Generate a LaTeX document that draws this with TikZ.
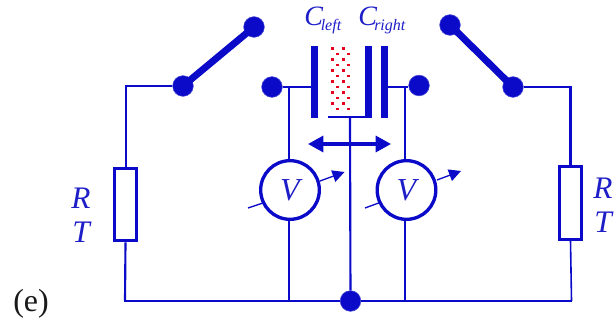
\documentclass[tikz,border=0pt]{standalone}
\usepackage{fontspec}
\setmainfont{Liberation Serif}
\usetikzlibrary{arrows.meta}
\definecolor{cblue}{RGB}{10,10,200}
\definecolor{tblue}{RGB}{30,30,200}
\definecolor{dred}{RGB}{230,0,30}
\tikzset{
  wire/.style={draw=cblue,line width=1.6pt},
  thinwire/.style={draw=cblue,line width=1.2pt},
  contact/.style={circle,fill=cblue,draw=cblue!75!white,line width=0.4pt,minimum size=15.5pt,inner sep=0pt},
  swarm/.style={draw=cblue,line width=5.2pt},
  plate/.style={fill=cblue,draw=none},
  res/.style={draw=cblue,line width=2.3pt,fill=white,minimum width=17pt,minimum height=54.5pt,inner sep=0pt},
  meter/.style={circle,draw=cblue,line width=2.5pt,fill=white,minimum size=44pt,inner sep=0pt,text=tblue,font=\fontsize{24}{26}\selectfont\itshape},
  lab/.style={text=tblue,inner sep=0pt,font=\fontsize{23.5}{27}\selectfont\itshape},
  clab/.style={text=tblue,inner sep=0pt,anchor=base west,font=\fontsize{21}{22}\selectfont\itshape},
  sub/.style={text=tblue,inner sep=0pt,anchor=base west,font=\fontsize{12}{13}\selectfont\itshape},
  dotA/.style={fill=dred,draw=none},
  pointer/.style={draw=cblue,line width=1pt},
  ptip/.style={draw=cblue,line width=1pt,-{Triangle[length=9pt,width=9pt]}},
  move/.style={draw=cblue,line width=2.4pt,{Triangle[length=11.5pt,width=12pt]}-{Triangle[length=11.5pt,width=12pt]}}
}
\begin{document}
\begin{tikzpicture}[x=0.75pt,y=-0.75pt]
\useasboundingbox (0,0) rectangle (616,324);
% coordinates
\coordinate (lc) at (126,86);
\coordinate (rc) at (570.5,87);
\coordinate (bl) at (124,301);
\coordinate (blx) at (125,301);
\coordinate (br) at (571.5,301);
\coordinate (cl) at (289,87);
\coordinate (cr) at (405,87);
\coordinate (pl) at (311,87);
\coordinate (pr) at (388,87);
\coordinate (ct) at (350,118);
\coordinate (al) at (308,144);
\coordinate (ar) at (391,144);
% capacitor plates
\fill[plate] (311,46) rectangle (318,118.5);
\fill[plate] (365,46) rectangle (372,118.5);
\fill[plate] (328,116) rectangle (372,118.5);
\fill[plate] (381,46) rectangle (388,118.5);
% red dots
\foreach \y in {48.3,59.3,70.3,81.3,92.3,103.3}{
  \fill[dotA] (330.7,\y-1.5) rectangle +(3.2,3);
  \fill[dotA] (342.1,\y-1.5) rectangle +(3.2,3);
}
\foreach \y in {53.7,64.7,75.7,86.7,97.7,108.7}{
  \fill[dotA] (336,\y-1) rectangle +(3.2,2);
  \fill[dotA] (347,\y-1) rectangle +(3.2,2);
}
% nodes
\node[contact] (s1) at (183,86) {};
\node[contact] (s1t) at (254,27) {};
\node[contact] (s2) at (513,87) {};
\node[contact] (s2t) at (450,25) {};
\node[contact] (cla) at (272,87) {};
\node[contact] (cra) at (419,85.5) {};
\node[contact] (g) at (350.5,301) {};
\node[res] (r1) at (125.5,204.5) {};
\node[res] (r2) at (570.5,203) {};
\node[meter] (v1) at (290,190) {V};
\node[meter] (v2) at (406.5,190) {V};
% switch arms
\draw[swarm] (s1.center) -- (s1t.center);
\draw[swarm] (s2.center) -- (s2t.center);
% wires
\draw[wire] (s1) -- (lc) -- (r1.north -| lc);
\draw[wire] (r1.south) -- (blx);
\draw[wire] (bl) -- (g) -- (br);
\draw[wire] (s2) -- (rc) -- (r2.north);
\draw[thinwire] (r2.south) -- (br);
\draw[wire] (cla) -- (pl);
\draw[wire] (pr) -- (cra.west |- pr);
\draw[wire] (cl) -- (v1.north -| cl);
\draw[wire] (cr) -- (v2.north -| cr);
\draw[wire] (v1.south -| cl) -- (cl |- bl);
\draw[wire] (v2.south -| cr) -- (cr |- bl);
\draw[wire] (ct) -- (g);
\draw[move] (al) -- (ar);
% meter pointers
\coordinate (p1a) at (248,208);
\coordinate (p1b) at (263,203);
\coordinate (p1c) at (320,181);
\coordinate (p1d) at (344.5,172);
\coordinate (p2a) at (365,208);
\coordinate (p2b) at (380,202.5);
\coordinate (p2c) at (437,180);
\coordinate (p2d) at (461,171);
\draw[pointer] (p1a) -- (p1b);
\draw[ptip] (p1c) -- (p1d);
\draw[pointer] (p2a) -- (p2b);
\draw[ptip] (p2c) -- (p2d);
% labels
\node[clab] (cleft) at (304,26) {C};
\node[sub] (cleftsub) at (320.5,31) {left};
\node[clab] (cright) at (358,26) {C};
\node[sub] (crightsub) at (374,31) {right};
\node[lab,anchor=base] (rl) at (81,208.5) {R};
\node[lab,anchor=base] (tl) at (81,242) {T};
\node[lab,anchor=base] (rr) at (603,198.5) {R};
\node[lab,anchor=base] (tr) at (603,232) {T};
\node[anchor=base west,inner sep=0pt,font=\fontsize{24}{26}\selectfont,text=black!90] (e) at (13,311) {(e)};
\end{tikzpicture}
\end{document}
